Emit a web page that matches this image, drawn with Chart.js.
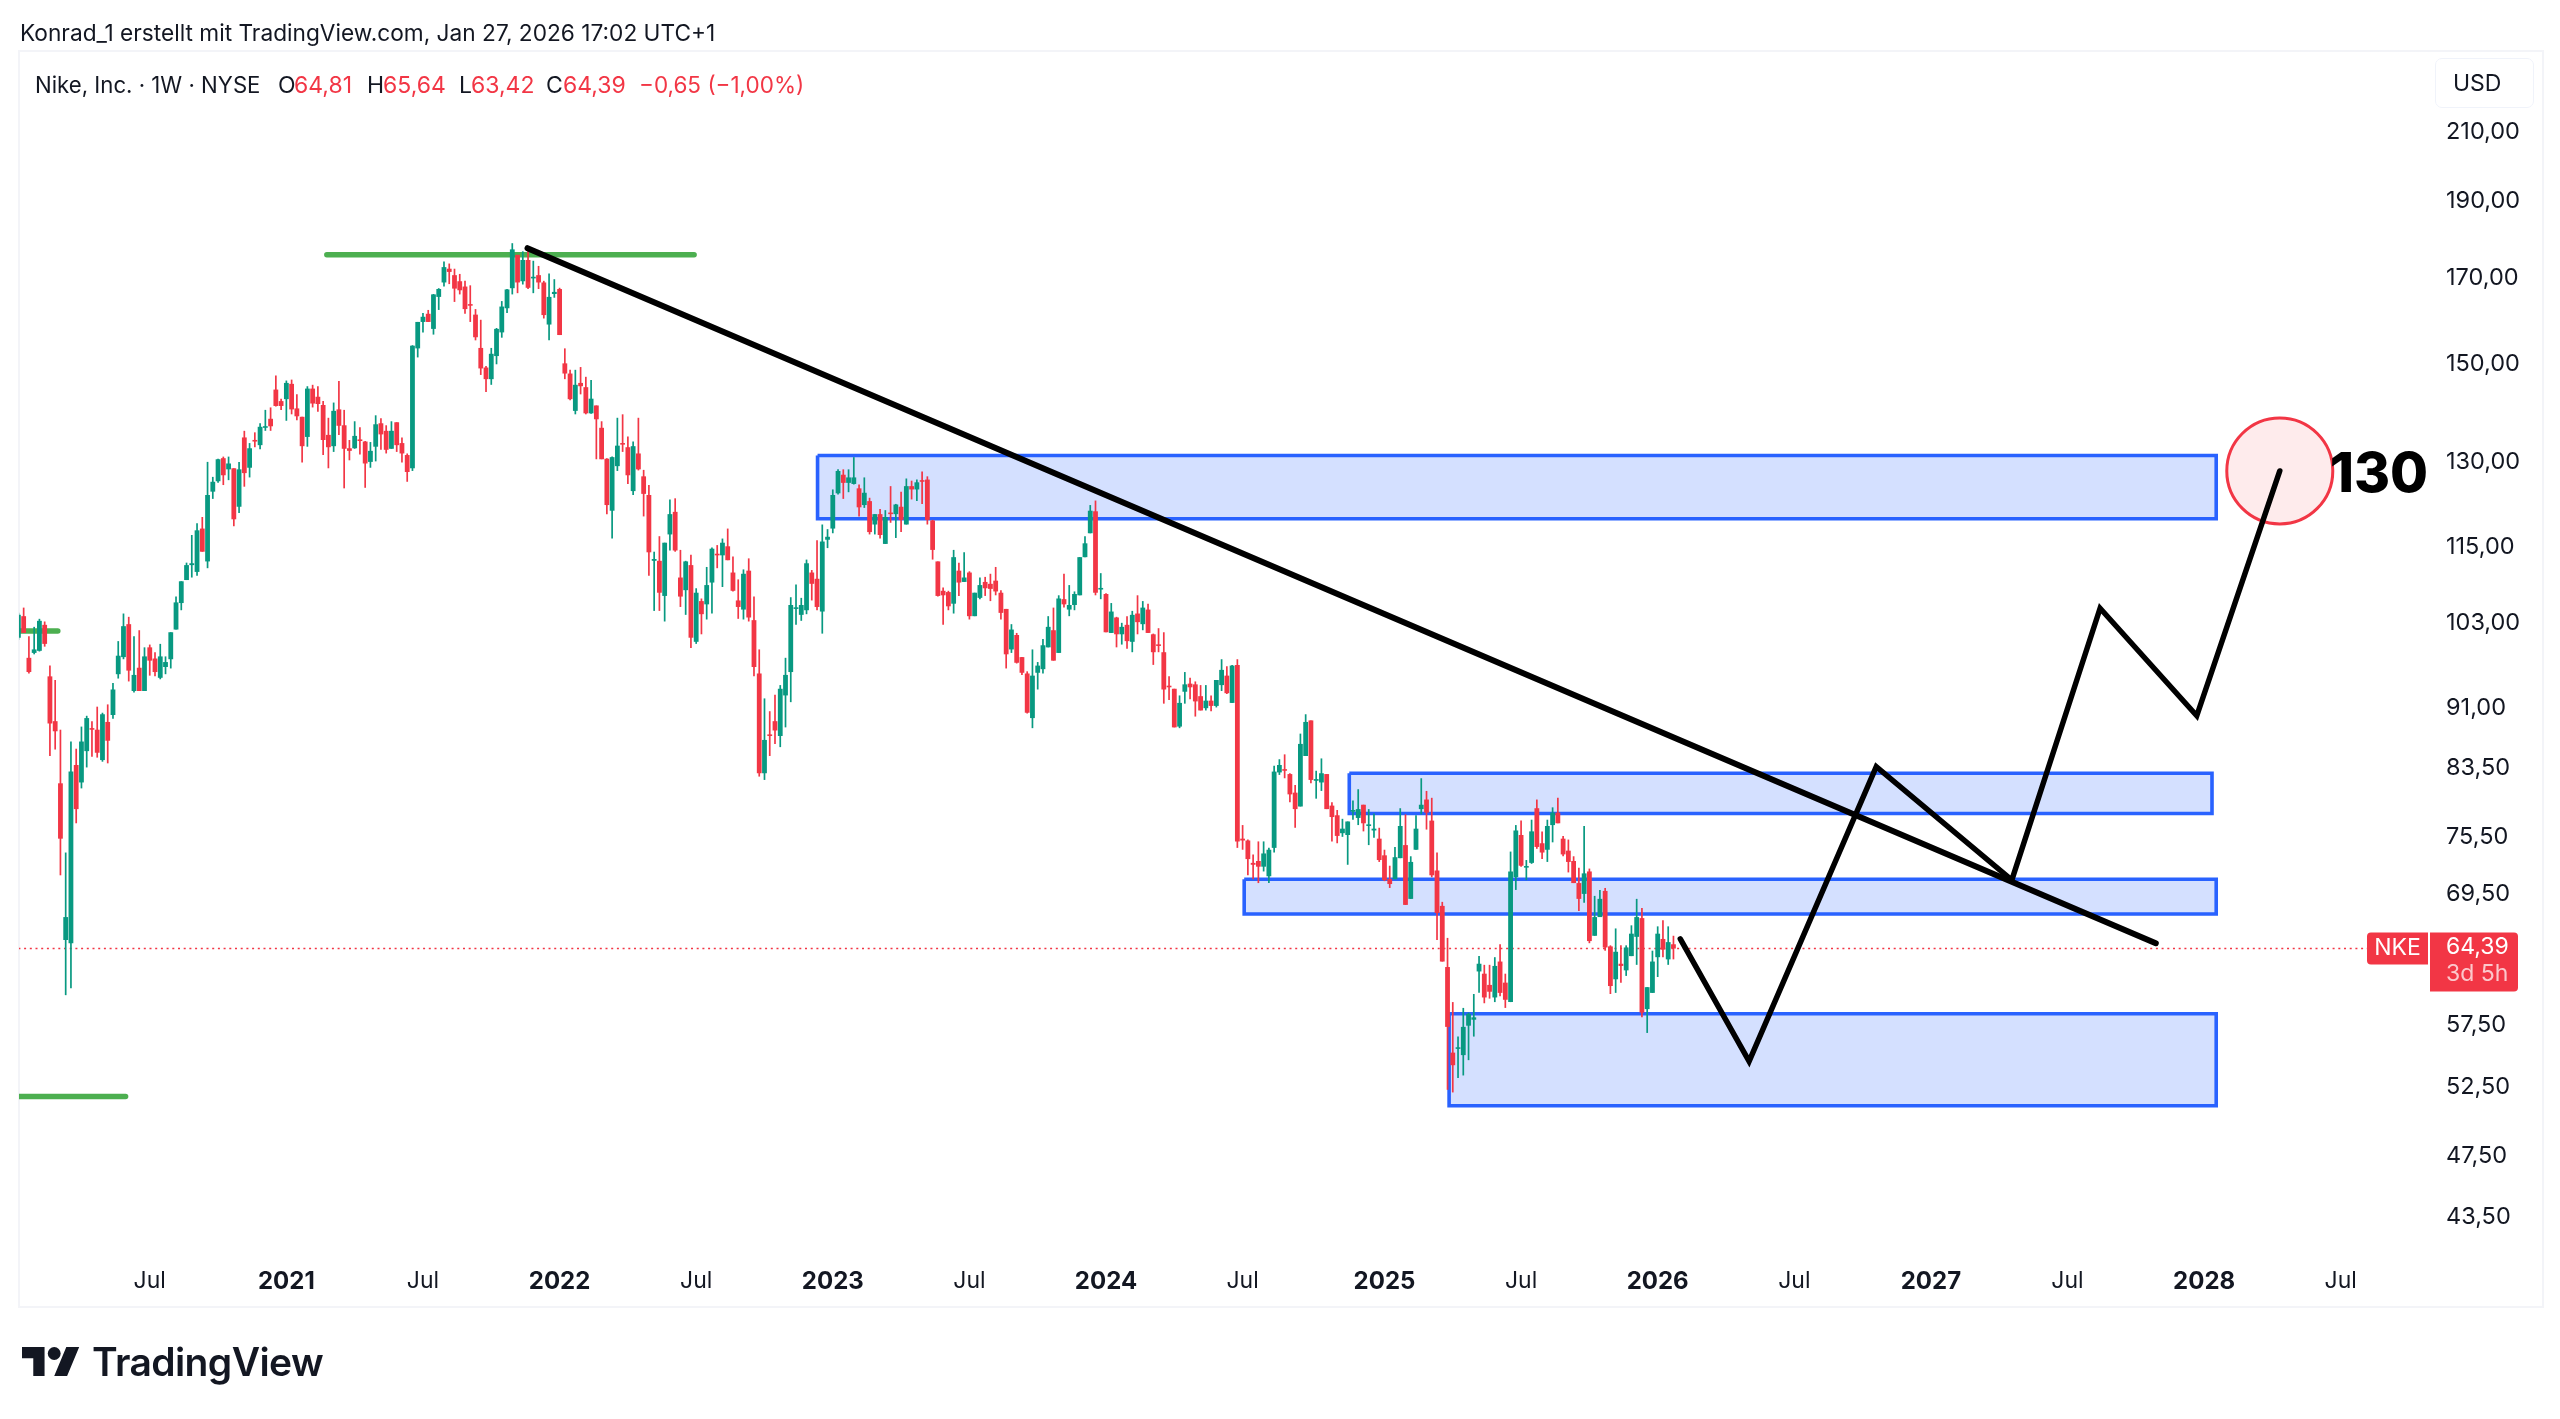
<!DOCTYPE html>
<html lang="de">
<head>
<meta charset="utf-8">
<title>NKE</title>
<script src="https://cdn.jsdelivr.net/npm/chart.js@4/dist/chart.umd.min.js"></script>
<style>
    html, body {margin: 0; padding: 0; background: #fff;}
    body {width: 2560px; height: 1419px; position: relative; overflow: hidden; font-family: Inter, sans-serif; color: #131722;}
    canvas {position: absolute; left: 0; top: 0;}
    .txt {position: absolute; white-space: nowrap; font-size: 23px; line-height: 28px;}
    .red {color: #f23645;}
    #frame {position: absolute; left: 18px; top: 50px; width: 2522px; height: 1254px; border: 2px solid #f3f4f8;}
    #usd {position: absolute; left: 2435px; top: 58px; width: 97px; height: 48px; border: 1px solid #f0f3fa; border-radius: 7px;}
</style>
</head>
<body>
<div id="frame"></div>
<canvas id="chart" width="2560" height="1419"></canvas>
<div class="txt" style="left:20px;top:19px;font-size:22.7px">Konrad_1 erstellt mit TradingView.com, Jan 27, 2026 17:02 UTC+1</div>
<div class="txt" style="left:35px;top:71px;font-size:22.2px">Nike, Inc. · 1W · NYSE</div>
<div class="txt" style="left:278px;top:71px">O</div><div class="txt red" style="left:294px;top:71px">64,81</div>
<div class="txt" style="left:367px;top:71px">H</div><div class="txt red" style="left:383px;top:71px">65,64</div>
<div class="txt" style="left:459px;top:71px">L</div><div class="txt red" style="left:471px;top:71px">63,42</div>
<div class="txt" style="left:546px;top:71px">C</div><div class="txt red" style="left:563px;top:71px">64,39</div>
<div class="txt red" style="left:639px;top:71px;font-size:22.5px">−0,65 (−1,00%)</div>
<div id="usd"></div>
<div class="txt" style="left:2453px;top:69px">USD</div>
<svg style="position:absolute;left:22px;top:1347px" width="58" height="29" viewBox="0 4 36 18">
    <path fill="#131722" d="M14 22H7V11H0V4h14v18zM28 22h-8l7.5-18h8L28 22z"/>
    <circle fill="#131722" cx="20" cy="8" r="4"/>
</svg>
<div class="txt" style="left:92px;top:1338px;font-size:39px;line-height:48px;font-weight:600;letter-spacing:-0.6px">TradingView</div>
<script>
// weekly candles, first bar is mid Jan 2020
const opens = [
    100.8,104.0,97.9,98.6,98.9,102.7,95.3,89.3,81.6,65.0,
    64.7,83.8,81.7,85.5,88.4,88.2,84.4,89.2,90.1,95.6,
    98.0,102.8,93.3,96.5,93.3,99.4,97.8,95.1,96.6,97.7,
    102.0,106.0,109.6,112.0,110.9,118.1,112.6,124.6,126.5,130.8,
    128.7,128.9,121.9,134.8,129.0,134.2,133.3,136.7,138.5,144.5,
    142.1,142.5,145.7,140.6,138.9,134.9,144.7,143.0,141.3,135.3,
    133.1,140.4,137.2,132.7,132.7,134.4,134.0,130.1,133.0,137.6,
    136.1,132.6,137.8,133.7,131.4,128.9,153.4,159.4,161.3,157.8,
    165.3,168.8,172.2,170.6,169.1,167.8,163.5,161.1,153.5,149.2,
    146.7,151.7,157.0,162.6,167.4,175.7,169.1,174.4,169.8,170.6,
    168.8,158.8,166.0,167.2,150.1,147.9,140.1,145.9,145.0,139.6,
    141.2,136.7,130.7,121.2,129.3,133.7,132.9,124.7,131.7,127.4,
    124.0,112.7,112.7,107.1,117.1,121.0,110.0,108.0,112.0,100.2,
    106.3,105.8,109.2,113.8,113.6,115.1,110.8,106.4,105.0,111.1,
    103.4,95.7,82.8,87.6,89.3,87.4,92.7,95.9,105.1,104.2,
    104.9,110.8,109.8,104.7,116.2,118.1,124.3,127.7,126.2,126.0,
    125.2,122.2,122.9,118.8,120.6,115.5,120.8,120.6,121.9,118.8,
    125.6,125.0,126.6,126.8,119.5,112.6,107.9,107.7,105.9,111.1,
    109.3,110.8,104.0,106.8,109.3,109.0,109.5,107.6,105.1,99.1,
    101.2,98.0,95.7,89.7,95.8,96.3,99.4,101.9,98.6,106.6,
    105.0,105.7,107.2,113.3,117.3,121.1,108.1,107.4,101.5,103.8,
    101.3,102.7,100.2,104.4,102.8,105.0,101.3,99.8,98.7,94.0,
    93.6,88.6,93.2,94.3,94.2,92.6,91.0,92.0,91.3,94.1,
    95.4,91.7,96.9,75.3,75.1,72.7,72.9,72.3,71.3,74.3,
    82.9,83.2,82.7,80.5,78.9,84.9,89.4,81.9,81.7,82.7,
    79.0,77.9,75.9,75.7,78.3,77.6,79.1,76.7,76.2,75.3,
    73.5,71.0,71.0,73.2,74.6,69.0,74.1,78.6,79.7,77.3,
    71.9,68.3,62.5,55.2,55.5,55.0,57.4,57.9,62.1,61.9,
    60.9,59.8,63.0,61.1,59.4,71.2,75.7,72.2,72.7,78.7,
    74.8,74.1,76.8,78.2,75.3,74.0,72.9,70.6,69.5,71.8,
    65.4,67.2,69.8,64.4,61.4,62.8,62.2,63.5,65.3,67.1,
    58.8,60.2,63.4,65.1,63.2,64.6
];
const highs = [
    104.5,105.3,101.0,102.4,103.6,103.2,96.8,94.8,88.2,73.8,
    86.7,85.8,88.6,90.0,89.3,91.2,90.4,91.5,94.4,100.3,
    104.4,103.9,101.0,101.9,99.4,99.8,98.7,99.9,98.1,101.6,
    107.0,109.4,112.4,117.0,119.0,120.1,130.1,127.3,130.7,131.1,
    131.1,128.9,130.1,136.1,133.7,135.8,137.6,140.3,140.8,147.5,
    142.6,146.4,146.6,143.5,138.9,145.2,145.5,145.2,142.1,138.7,
    141.8,146.3,140.3,134.3,138.0,136.8,134.1,133.9,139.2,138.6,
    137.2,138.0,137.8,134.8,131.7,154.1,159.4,161.5,162.2,166.0,
    167.4,174.0,173.5,172.2,170.9,169.2,168.1,162.4,159.9,149.5,
    153.5,158.0,164.3,167.2,178.7,175.7,176.6,177.2,174.2,172.9,
    169.2,171.0,169.6,167.5,153.4,148.7,148.7,149.3,147.2,146.5,
    141.2,138.0,130.8,131.1,138.7,139.4,135.0,134.0,138.7,128.6,
    125.8,114.2,116.8,115.7,123.2,123.4,114.5,112.7,113.7,108.3,
    106.7,111.7,114.9,115.3,116.4,118.1,113.4,109.7,111.3,113.1,
    107.0,99.1,92.3,90.6,92.8,94.1,97.9,106.9,108.9,106.8,
    112.9,111.2,116.1,118.8,118.0,125.0,128.7,128.7,128.7,131.0,
    125.9,127.2,123.5,120.6,121.5,121.3,125.6,122.4,124.6,127.0,
    126.6,126.8,128.3,127.4,119.6,112.6,108.4,107.9,114.5,112.4,
    114.1,111.0,107.6,110.0,110.1,110.6,111.7,108.0,105.1,102.8,
    101.5,98.0,96.0,99.1,97.3,100.6,104.0,105.3,107.2,110.6,
    108.8,107.8,113.3,116.8,122.2,123.0,110.7,107.5,106.0,103.9,
    103.0,104.0,104.8,107.2,106.3,105.9,101.4,102.2,101.6,95.3,
    93.6,92.7,95.9,95.1,94.6,94.1,94.1,92.7,94.8,97.7,
    96.7,96.9,97.7,76.8,75.2,73.6,75.0,75.0,74.3,83.7,
    84.5,85.1,82.8,81.4,87.7,90.2,89.4,83.1,84.6,82.7,
    79.4,78.5,77.5,77.2,79.6,80.9,79.1,78.6,78.1,76.5,
    74.1,72.4,74.4,78.7,78.0,73.4,77.9,82.2,80.7,79.9,
    73.8,68.7,65.2,59.4,56.5,58.9,58.5,60.1,63.5,62.7,
    62.7,63.4,64.6,61.9,73.9,76.8,77.3,73.0,77.4,79.7,
    76.1,77.4,78.8,79.9,75.6,75.2,73.4,72.2,76.7,72.1,
    69.3,69.9,70.1,64.5,66.1,64.5,64.5,66.4,69.0,68.1,
    60.7,64.0,66.3,66.9,66.3,65.4
];
const lows = [
    100.5,101.5,95.7,98.4,98.8,99.5,84.9,85.7,71.4,60.0,
    60.6,77.0,81.0,83.5,84.8,84.7,84.2,84.0,89.6,95.0,
    97.7,94.6,93.1,93.3,93.3,95.4,95.3,94.9,95.6,96.4,
    102.0,104.9,109.6,110.0,110.3,114.2,111.5,123.3,126.2,125.8,
    126.7,118.5,120.8,125.5,127.2,132.9,132.5,136.1,136.1,141.0,
    140.3,138.1,139.4,138.2,130.0,133.0,140.8,139.9,131.4,128.9,
    132.0,135.3,125.2,130.4,132.6,131.5,125.3,129.0,130.2,132.4,
    131.7,132.6,132.0,130.0,126.4,128.4,151.4,157.0,159.4,156.5,
    162.2,167.8,168.4,164.1,165.9,161.3,159.4,155.2,147.6,144.0,
    145.5,149.9,155.8,161.5,165.9,166.2,168.3,167.2,166.2,167.2,
    160.2,155.2,165.1,156.4,146.7,142.3,139.4,143.5,139.4,139.5,
    130.6,130.6,120.6,116.4,128.4,132.0,126.0,124.0,128.5,120.2,
    110.3,104.8,104.8,103.2,114.4,114.2,105.4,104.2,99.3,99.9,
    101.3,103.5,104.4,111.5,108.5,112.8,107.8,103.6,103.5,103.2,
    95.3,82.4,82.0,84.9,86.4,86.0,88.5,91.8,102.7,103.3,
    104.3,106.4,104.9,101.4,114.8,117.3,124.1,123.3,124.5,125.9,
    120.2,121.7,117.1,117.1,116.4,115.5,119.1,116.5,117.5,118.8,
    123.2,122.9,122.4,118.8,112.9,107.0,102.7,104.9,104.4,107.1,
    109.3,103.5,104.0,106.6,107.1,106.3,107.2,103.5,96.4,98.6,
    97.1,95.5,90.3,88.4,93.5,95.7,99.4,97.5,98.6,105.3,
    104.0,104.9,107.2,113.3,117.3,107.2,106.6,101.6,101.5,99.4,
    99.8,99.2,98.7,101.3,101.9,101.5,96.9,98.7,91.6,92.1,
    88.5,88.4,91.6,92.2,89.9,90.7,90.7,90.6,91.1,93.3,
    92.9,91.7,74.3,74.1,71.4,71.0,70.6,71.8,70.6,73.8,
    82.6,82.2,79.4,76.5,78.9,84.9,81.6,79.8,80.7,78.6,
    75.0,74.8,75.5,72.5,77.4,76.8,76.1,74.6,75.4,72.8,
    70.8,70.1,71.0,73.2,68.4,69.0,74.1,78.0,76.3,71.2,
    65.0,63.0,52.3,52.1,53.2,53.4,54.6,56.5,60.2,59.3,
    59.7,59.4,59.9,58.9,59.4,69.9,72.3,70.9,72.6,74.2,
    73.1,72.8,74.9,77.0,73.4,71.7,70.6,67.8,68.6,64.7,
    65.4,67.2,64.0,60.1,60.2,61.1,61.7,63.5,62.7,58.1,
    56.8,60.2,61.6,63.4,62.7,63.2
];
const closes = [
    104.2,101.5,95.9,99.1,103.3,99.9,89.0,88.0,75.3,67.2,
    83.0,78.6,86.7,89.7,88.2,85.3,90.2,86.8,93.5,98.2,
    102.5,96.1,95.5,93.3,98.1,97.5,95.9,98.1,97.3,101.6,
    106.1,109.4,112.0,112.3,117.8,114.2,124.0,126.4,130.6,127.6,
    129.8,119.7,128.7,128.0,132.7,134.0,136.9,137.0,137.0,141.1,
    141.1,145.9,140.4,139.0,133.1,144.7,141.6,141.5,134.3,132.9,
    140.1,137.1,132.6,132.2,135.1,134.1,129.8,132.2,137.4,135.4,
    132.4,136.1,133.3,131.7,128.2,154.0,159.4,160.6,159.4,165.9,
    167.2,172.6,171.4,167.3,166.9,162.4,163.2,155.9,149.0,146.7,
    152.2,157.8,163.0,167.1,177.1,168.8,174.4,167.5,170.2,168.8,
    161.0,165.3,166.5,156.4,147.9,142.5,145.5,145.2,139.6,142.6,
    138.4,130.6,122.2,131.0,133.2,133.4,127.6,133.1,128.7,124.2,
    114.1,113.0,107.6,115.7,120.6,114.4,107.0,112.6,100.8,107.6,
    104.3,108.8,114.7,113.6,115.7,112.8,107.9,105.4,110.6,103.8,
    96.6,82.8,86.9,87.4,88.1,93.6,95.5,105.7,105.3,105.7,
    112.3,109.0,105.4,115.9,116.7,124.0,128.4,126.2,127.2,127.2,
    121.8,124.4,117.5,120.6,117.0,120.1,120.6,122.3,119.6,125.6,
    125.0,126.3,126.4,119.6,114.5,107.1,107.2,105.5,113.3,109.2,
    110.0,104.0,107.6,108.8,108.3,108.2,107.8,104.5,98.4,102.0,
    97.2,95.8,90.4,95.4,96.8,99.7,102.4,97.5,106.7,105.8,
    105.7,107.4,113.3,115.6,121.2,107.6,108.3,101.6,104.7,101.3,
    102.4,100.3,104.2,103.1,105.3,101.5,98.7,99.6,93.5,93.8,
    88.5,91.7,94.2,93.8,91.9,90.7,92.0,91.3,94.8,96.2,
    93.0,96.8,75.0,75.1,73.1,72.5,72.3,73.7,74.1,83.0,
    83.8,83.1,80.3,78.6,86.4,89.2,82.0,82.1,82.8,78.6,
    77.7,75.6,76.4,77.2,78.5,78.6,77.0,76.8,76.4,73.0,
    70.9,70.5,73.3,76.7,68.4,72.8,76.4,79.1,78.2,71.4,
    67.6,63.0,57.3,54.2,55.6,57.3,58.4,58.1,62.8,59.8,
    60.3,62.6,60.2,59.6,71.8,76.2,72.4,72.3,76.1,74.4,
    73.8,76.7,78.2,77.0,73.6,72.8,70.6,69.0,71.6,64.9,
    67.2,69.0,64.3,60.8,63.9,62.6,64.3,65.6,67.2,58.5,
    60.7,63.0,65.6,64.1,64.8,64.2
];

const priceTicks = [210, 190, 170, 150, 130, 115, 103, 91, 83.5, 75.5, 69.5, 57.5, 52.5, 47.5, 43.5];
const timeTickWeeks = [25, 51, 77, 103, 129, 155, 181, 207, 233, 260, 286, 312, 338, 364, 390, 416, 442];
const timeTickLabels = ['Jul', '2021', 'Jul', '2022', 'Jul', '2023', 'Jul', '2024', 'Jul', '2025', 'Jul', '2026', 'Jul', '2027', 'Jul', '2028', 'Jul'];

// blue zones, top to bottom
const zoneStart = [152.1, 253.3, 233.3, 272.3];
const zoneEnd = [418.3, 417.5, 418.3, 418.3];
const zoneHigh = [131.3, 82.8, 71.0, 58.4];
const zoneLow = [119.8, 78.1, 67.5, 51.1];

// green horizontal marks
const levelStart = [58.7, -2, -2];
const levelEnd = [128.6, 7.5, 20.4];
const levelPrice = [175.7, 101.8, 51.8];

const trendWeeks = [96.9, 406.8];
const trendPrices = [177.4, 64.7];
const pathWeeks = [316.3, 329.4, 353.6, 379.4, 396.2, 414.6, 430.4];
const pathPrices = [65.1, 54.5, 83.6, 70.9, 105.2, 90.0, 128.4];

const targetWeek = 430.4;
const targetPrice = 128.4;
const targetLabelWeek = 439.9;
const targetLabelPrice = 127.6;
const lastPrice = 64.2;
const lastPriceEndWeek = 447;

const GREEN = '#089981';
const RED = '#f23645';
const FONT = 'Inter, sans-serif';

const candleColors = closes.map((c, i) => (c >= opens[i] ? GREEN : RED));

function lineDataset(xs, ys, extra) {
    return Object.assign({
        type: 'line',
        data: xs.map((x, i) => ({x, y: ys[i]})),
        pointRadius: 0,
        tension: 0,
        fill: false,
        clip: 0
    }, extra);
}

const zoneDatasets = zoneStart.map((start, i) => lineDataset(
    [start, zoneEnd[i], zoneEnd[i], start, start],
    [zoneHigh[i], zoneHigh[i], zoneLow[i], zoneLow[i], zoneHigh[i]],
    {
        borderColor: '#2962ff',
        borderWidth: 3.6,
        borderJoinStyle: 'miter',
        backgroundColor: 'rgba(41, 98, 255, 0.2)',
        fill: 'shape',
        order: 6
    }
));

const levelDatasets = levelStart.map((start, i) => lineDataset(
    [start, levelEnd[i]],
    [levelPrice[i], levelPrice[i]],
    {borderColor: '#4caf50', borderWidth: 5.5, borderCapStyle: 'round', order: 4}
));

// price tags and the "130" text, placed through the scales
const labelsPlugin = {
    id: 'labels',
    afterDraw(chart) {
        const {ctx, scales} = chart;
        const py = scales.y.getPixelForValue(lastPrice);
        const right = scales.x.right;
        ctx.save();
        ctx.fillStyle = RED;
        ctx.beginPath();
        ctx.roundRect(right - 62, py - 16, 61, 32, [4, 0, 0, 4]);
        ctx.fill();
        ctx.beginPath();
        ctx.roundRect(right + 1, py - 16, 88, 59, [0, 4, 4, 0]);
        ctx.fill();
        ctx.font = '23px ' + FONT;
        ctx.textBaseline = 'middle';
        ctx.textAlign = 'center';
        ctx.fillStyle = '#fff';
        ctx.fillText('NKE', right - 31.5, py);
        ctx.textAlign = 'left';
        ctx.fillText('64,39', right + 17, py - 1);
        ctx.fillStyle = 'rgba(255, 255, 255, 0.72)';
        ctx.fillText('3d 5h', right + 17, py + 26);
        ctx.fillStyle = '#000';
        ctx.font = '800 55px ' + FONT;
        ctx.fillText('130', scales.x.getPixelForValue(targetLabelWeek), scales.y.getPixelForValue(targetLabelPrice));
        ctx.restore();
    }
};

new Chart(document.getElementById('chart'), {
    type: 'bar',
    plugins: [labelsPlugin],
    data: {
        datasets: [
            lineDataset(pathWeeks, pathPrices, {borderColor: '#000', borderWidth: 5.5, borderCapStyle: 'round', borderJoinStyle: 'miter', order: 0}),
            lineDataset(trendWeeks, trendPrices, {borderColor: '#000', borderWidth: 6, borderCapStyle: 'round', order: 0}),
            lineDataset([targetWeek], [targetPrice], {
                showLine: false,
                pointRadius: 53,
                pointBorderWidth: 3,
                pointBorderColor: RED,
                pointBackgroundColor: 'rgba(242, 54, 69, 0.1)',
                order: 1
            }),
            {
                data: closes.map((c, i) => ({x: i, y: [opens[i], c]})),
                backgroundColor: candleColors,
                barThickness: 4.8,
                minBarLength: 1.6,
                grouped: false,
                inflateAmount: 0,
                order: 2
            },
            {
                data: closes.map((c, i) => ({x: i, y: [lows[i], highs[i]]})),
                backgroundColor: candleColors,
                barThickness: 1.7,
                grouped: false,
                inflateAmount: 0,
                order: 3
            },
            ...levelDatasets,
            lineDataset([0, lastPriceEndWeek], [lastPrice, lastPrice], {
                borderColor: RED,
                borderWidth: 1.6,
                borderDash: [2, 3.7],
                order: 5
            }),
            ...zoneDatasets
        ]
    },
    options: {
        responsive: false,
        animation: false,
        devicePixelRatio: 1,
        events: [],
        // the big target circle would otherwise push the chart area inwards
        layout: {autoPadding: false, padding: {left: 19, top: 52, right: 0, bottom: 0}},
        plugins: {
            legend: {display: false},
            tooltip: {enabled: false}
        },
        scales: {
            x: {
                type: 'linear',
                offset: false,
                bounds: 'data',
                min: 0.114,
                max: 458.8,
                grid: {display: false, drawTicks: false},
                border: {display: false},
                afterBuildTicks(scale) {
                    scale.ticks = timeTickWeeks.map(value => ({value}));
                },
                afterFit(scale) {
                    scale.height = 168;
                    scale.paddingLeft = 0;
                    scale.paddingRight = 0;
                },
                ticks: {
                    autoSkip: false,
                    maxRotation: 0,
                    padding: 16,
                    color: '#131722',
                    callback: (value, index) => timeTickLabels[index],
                    font: ctx => {
                        const isYear = /^\d/.test(timeTickLabels[ctx.index]);
                        return {family: FONT, size: isYear ? 24 : 23, weight: isYear ? '700' : '400'};
                    }
                }
            },
            y: {
                type: 'logarithmic',
                position: 'right',
                bounds: 'data',
                min: 41.39,
                max: 235.85,
                grid: {display: false, drawTicks: false},
                border: {display: false},
                afterBuildTicks(scale) {
                    scale.ticks = priceTicks.map(value => ({value}));
                },
                afterFit(scale) {
                    scale.width = 131;
                    scale.paddingTop = 0;
                    scale.paddingBottom = 0;
                },
                ticks: {
                    autoSkip: false,
                    crossAlign: 'near',
                    padding: 17,
                    color: '#131722',
                    font: {family: FONT, size: 23.5},
                    callback: value => value.toFixed(2).replace('.', ',')
                }
            }
        }
    }
});
</script>
</body>
</html>
